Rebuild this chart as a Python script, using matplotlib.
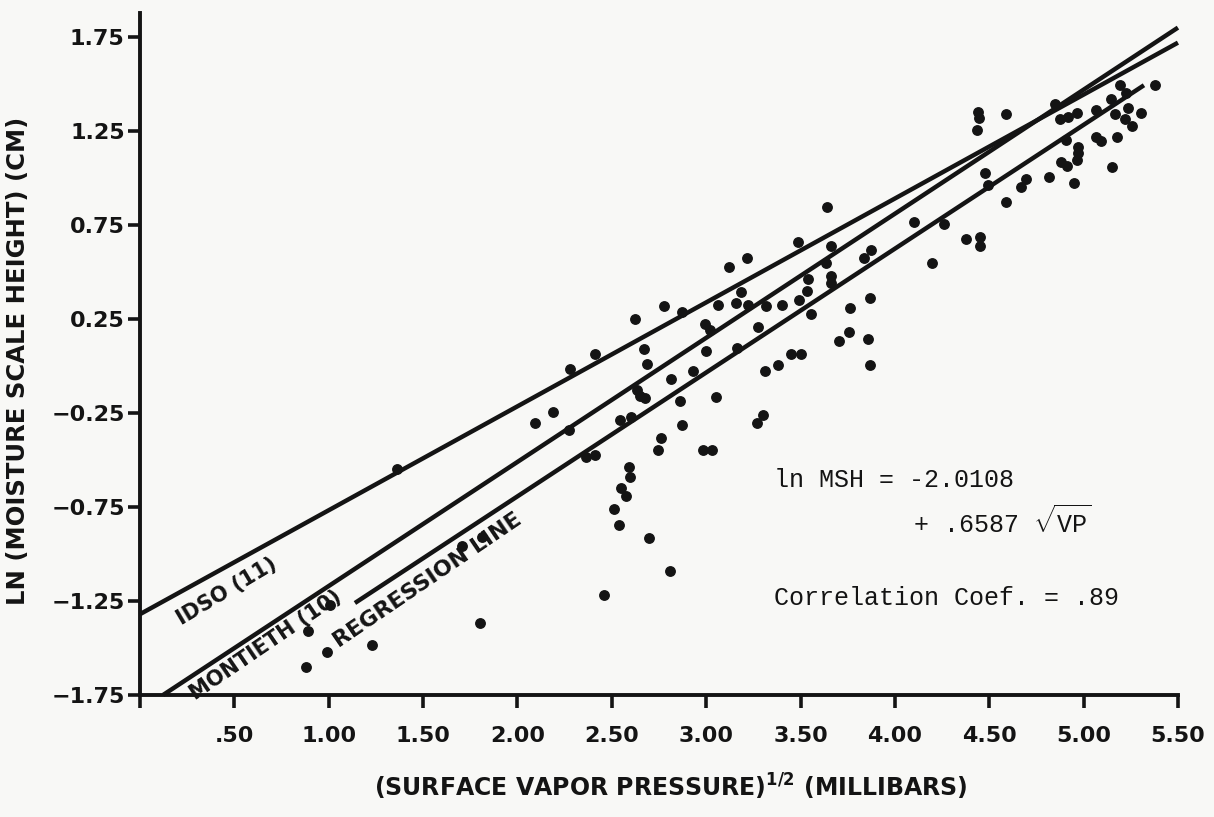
import matplotlib
matplotlib.use("Agg")
import matplotlib.pyplot as plt
import numpy as np

# ---------------- data ----------------
x_ticks = [0.0, 0.5, 1.0, 1.5, 2.0, 2.5, 3.0, 3.5, 4.0, 4.5, 5.0, 5.5]
x_tick_labels = ["", ".50", "1.00", "1.50", "2.00", "2.50", "3.00", "3.50",
                 "4.00", "4.50", "5.00", "5.50"]
y_ticks = [-1.75, -1.25, -0.75, -0.25, 0.25, 0.75, 1.25, 1.75]
y_tick_labels = ["\u22121.75", "\u22121.25", "\u22120.75", "\u22120.25",
                 "0.25", "0.75", "1.25", "1.75"]

# scatter points: sqrt(surface vapor pressure), ln(moisture scale height)
pts_x = [
    0.879, 0.892, 0.989, 1.006, 1.227, 1.800, 1.360, 1.704, 1.810,
    2.777, 2.622, 2.874, 3.183, 3.063, 3.160, 3.222, 3.319, 2.993, 3.019,
    3.275, 2.671, 2.410, 2.278, 2.689, 2.998, 3.166, 2.816, 2.931, 3.310,
    3.381, 2.636, 2.648, 2.675, 2.860, 3.051, 2.092, 2.189, 2.274, 2.546,
    2.604, 2.874, 3.301, 3.272, 2.763, 2.745, 2.984, 3.033, 2.362, 2.410,
    2.592, 2.595, 2.551, 2.578, 2.512, 2.539, 2.698, 2.806, 2.460,
    3.214, 3.121,
    3.642, 3.487, 3.660, 3.637, 3.663, 3.660, 3.540, 3.536, 3.835, 3.872,
    4.100, 4.260, 4.379, 4.449, 4.449, 4.199, 3.404, 3.490, 3.557, 3.870,
    3.761, 3.757, 3.704, 3.858, 3.452, 3.505, 3.867, 4.493,
    4.440, 4.444, 4.435, 4.590, 4.846, 4.873, 4.917, 4.965, 5.067, 5.146,
    5.191, 5.226, 5.381, 5.235, 5.302, 5.168, 5.217, 5.256, 4.908, 5.067,
    5.094, 5.178, 4.970, 4.970, 4.965, 4.882, 4.912, 5.151, 4.476, 4.696,
    4.670, 4.817, 4.947, 4.590,
]
pts_y = [
    -1.603, -1.408, -1.520, -1.270, -1.484, -1.365, -0.549, -0.956, -0.911,
    0.321, 0.250, 0.289, 0.392, 0.324, 0.333, 0.324, 0.319, 0.222, 0.191,
    0.209, 0.089, 0.062, -0.018, 0.011, 0.080, 0.094, -0.069, -0.025, -0.025,
    0.005, -0.128, -0.160, -0.172, -0.185, -0.167, -0.302, -0.243, -0.340, -0.287,
    -0.273, -0.314, -0.261, -0.302, -0.381, -0.447, -0.447, -0.447, -0.484, -0.472,
    -0.539, -0.589, -0.650, -0.691, -0.761, -0.846, -0.917, -1.089, -1.218,
    0.573, 0.528,
    0.847, 0.661, 0.640, 0.546, 0.479, 0.443, 0.461, 0.399, 0.576, 0.615,
    0.768, 0.754, 0.676, 0.685, 0.640, 0.550, 0.324, 0.351, 0.277, 0.363,
    0.307, 0.179, 0.133, 0.144, 0.064, 0.062, 0.005, 0.965,
    1.353, 1.318, 1.255, 1.340, 1.394, 1.312, 1.326, 1.344, 1.362, 1.419,
    1.495, 1.454, 1.495, 1.374, 1.347, 1.340, 1.314, 1.278, 1.202, 1.220,
    1.197, 1.220, 1.167, 1.131, 1.096, 1.087, 1.064, 1.057, 1.028, 0.993,
    0.954, 1.004, 0.972, 0.871,
]

# reference lines (end points)
idso_x = [0.0, 5.5]
idso_y = [-1.32, 1.72]
montieth_x = [0.122, 5.5]
montieth_y = [-1.75, 1.80]
# regression line: ln MSH = -2.0108 + 0.6587 sqrt(VP)
reg_intercept = -2.0108
reg_slope = 0.6587
reg_x = [1.139, 5.32]

# ---------------- style ----------------
ink = "#141414"
bg = "#f8f8f6"
plt.rcParams["mathtext.fontset"] = "custom"
plt.rcParams["mathtext.rm"] = "Liberation Mono"
plt.rcParams["mathtext.bf"] = "DejaVu Sans:bold"

fig = plt.figure(figsize=(12.14, 8.17), dpi=100, facecolor=bg)
ax = fig.add_axes([0.1153, 0.1493, 0.8550, 0.8353])
ax.set_facecolor(bg)

ax.set_xlim(0, 5.5)
ax.set_ylim(-1.75, 1.88)

# lines
ax.plot(idso_x, idso_y, color=ink, lw=3.2, solid_capstyle="butt", clip_on=False)
ax.plot(montieth_x, montieth_y, color=ink, lw=3.2, solid_capstyle="butt", clip_on=False)
reg_y = [reg_intercept + reg_slope * v for v in reg_x]
ax.plot(reg_x, reg_y, color=ink, lw=3.2, solid_capstyle="butt", clip_on=False)

# points
ax.plot(pts_x, pts_y, "o", ms=6.8, color=ink, mec=ink, clip_on=False)

# spines
for s in ["top", "right"]:
    ax.spines[s].set_visible(False)
for s in ["left", "bottom"]:
    ax.spines[s].set_linewidth(2.8)
    ax.spines[s].set_color(ink)
ax.spines["bottom"].set_bounds(0, 5.5)
ax.spines["left"].set_bounds(-1.75, 1.88)

ax.set_xticks(x_ticks)
ax.set_xticklabels(x_tick_labels)
ax.set_yticks(y_ticks)
ax.set_yticklabels(y_tick_labels)
ax.tick_params(axis="x", direction="out", length=9, width=2.6, color=ink,
               pad=13, labelsize=16, labelcolor=ink)
ax.tick_params(axis="y", direction="out", length=9, width=2.6, color=ink,
               pad=2, labelsize=16, labelcolor=ink)
for lab in ax.get_xticklabels() + ax.get_yticklabels():
    lab.set_fontweight("bold")
    lab.set_family("DejaVu Sans")

ax.set_ylabel("LN (MOISTURE SCALE HEIGHT) (CM)", fontsize=17.5,
              fontweight="bold", color=ink)
ax.yaxis.set_label_coords(-0.106, 0.489)
ax.set_xlabel(r"(SURFACE VAPOR PRESSURE)$^{\mathbf{1/2}}$ (MILLIBARS)",
              fontsize=17, fontweight="bold", color=ink)
ax.xaxis.set_label_coords(0.5116, -0.113)

# line labels
def ang(sl):
    return np.degrees(np.arctan(sl * 188.0 / 188.8))

idso_sl = (idso_y[1] - idso_y[0]) / (idso_x[1] - idso_x[0])
mon_sl = (montieth_y[1] - montieth_y[0]) / (montieth_x[1] - montieth_x[0])
ax.text(0.46, -1.20, "IDSO (11)", rotation=ang(idso_sl) + 2, rotation_mode="anchor",
        ha="center", va="center", fontsize=15, fontweight="bold", color=ink)
ax.text(0.668, -1.484, "MONTIETH (10)", rotation=ang(mon_sl) + 1, rotation_mode="anchor",
        ha="center", va="center", fontsize=15, fontweight="bold", color=ink)
ax.text(1.525, -1.14, "REGRESSION LINE", rotation=ang(reg_slope) + 1,
        rotation_mode="anchor", ha="center", va="center", fontsize=16,
        fontweight="bold", color=ink)

# equation annotation
ax.text(3.358, -0.606, "ln MSH = -2.0108", ha="left", va="center",
        fontsize=18, family="Liberation Mono", color=ink)
ax.text(4.094, -0.83, r"+ .6587 $\sqrt{\mathrm{VP}}$", ha="left", va="center",
        fontsize=18, family="Liberation Mono", color=ink)
ax.text(3.358, -1.234, "Correlation Coef. = .89", ha="left", va="center",
        fontsize=18, family="Liberation Mono", color=ink)

fig.savefig("out.png", dpi=100, facecolor=bg)
